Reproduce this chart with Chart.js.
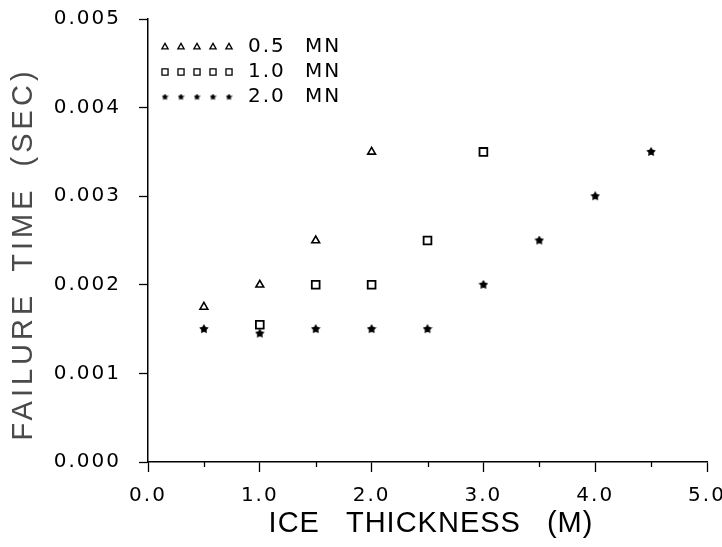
<!DOCTYPE html>
<html lang="en">
<head>
  <meta charset="UTF-8" />
  <title>Failure time vs ice thickness</title>
  <script src="https://cdn.jsdelivr.net/npm/chart.js"></script>
  <style>
    body {
      margin: 0;
      background-color: #ffffff;
    }
    #wrap {
      width: 722px;
      height: 547px;
    }
  </style>
</head>
<body>
  <div id="wrap">
    <canvas id="failChart" width="722" height="547"></canvas>
  </div>

  <script>
    // values (ice thickness in m, failure time in s)
    const seriesNames = ["0.5 MN", "1.0 MN", "2.0 MN"];

    const thick05 = [0.5, 1.0, 1.5, 2.0];
    const time05 = [0.00175, 0.002, 0.0025, 0.0035];

    const thick10 = [1.0, 1.5, 2.0, 2.5, 3.0];
    const time10 = [0.00155, 0.002, 0.002, 0.0025, 0.0035];

    const thick20 = [0.5, 1.0, 1.5, 2.0, 2.5, 3.0, 3.5, 4.0, 4.5];
    const time20 = [0.0015, 0.00145, 0.0015, 0.0015, 0.0015, 0.002, 0.0025, 0.003, 0.0035];

    const xTicks = [0, 1, 2, 3, 4, 5];
    const xMinorTicks = [0.5, 1.5, 2.5, 3.5, 4.5];
    const yTicks = [0, 0.001, 0.002, 0.003, 0.004, 0.005];

    const xTitle = "ICE THICKNESS (M)";
    const yTitle = "FAILURE TIME (SEC)";

    const FONT = "'Liberation Sans', Arial, sans-serif";
    const TICKFONT = "'DejaVu Sans', sans-serif";

    function toPoints(xs, ys) {
      return xs.map((x, i) => ({ x: x, y: ys[i] }));
    }

    // filled five point star used as marker
    function makeStar(size) {
      const c = document.createElement("canvas");
      c.width = size;
      c.height = size;
      const g = c.getContext("2d");
      const r = size / 2;
      g.fillStyle = "#000";
      g.beginPath();
      for (let i = 0; i < 10; i++) {
        const rad = i % 2 === 0 ? r : r * 0.55;
        const a = -Math.PI / 2 + (i * Math.PI) / 5;
        const px = r + rad * Math.cos(a);
        const py = r + rad * Math.sin(a);
        if (i === 0) g.moveTo(px, py);
        else g.lineTo(px, py);
      }
      g.closePath();
      g.fill();
      return c;
    }
    const starImg = makeStar(10);
    const starSmall = makeStar(7);

    function spacedWidth(ctx, words, gap) {
      let w = 0;
      words.forEach((wd, i) => {
        w += ctx.measureText(wd).width;
        if (i < words.length - 1) w += gap;
      });
      return w;
    }

    // wide plotter-like lettering for the ticks
    const spacing = {
      id: "spacing",
      beforeDraw(chart) {
        chart.ctx.letterSpacing = "2px";
      },
      afterDraw(chart) {
        chart.ctx.letterSpacing = "0px";
      },
    };

    // minor x ticks, axis titles and the row legend
    const extras = {
      id: "extras",
      afterDraw(chart) {
        const ctx = chart.ctx;
        const xs = chart.scales.x;
        const area = chart.chartArea;
        ctx.save();
        ctx.strokeStyle = "#000";
        ctx.lineWidth = 1.3;
        xMinorTicks.forEach((v) => {
          const px = Math.round(xs.getPixelForValue(v)) + 0.5;
          ctx.beginPath();
          ctx.moveTo(px, area.bottom);
          ctx.lineTo(px, area.bottom + 5);
          ctx.stroke();
        });

        // x title
        ctx.fillStyle = "#000";
        ctx.textBaseline = "middle";
        ctx.textAlign = "left";
        ctx.font = "29px " + FONT;
        ctx.letterSpacing = "1px";
        let words = xTitle.split(" ");
        let gap = 26;
        let w = spacedWidth(ctx, words, gap);
        let x = 431 - w / 2;
        words.forEach((wd) => {
          ctx.fillText(wd, x, 524);
          x += ctx.measureText(wd).width + gap;
        });

        // y title, rotated
        ctx.save();
        ctx.translate(24, 254);
        ctx.rotate(-Math.PI / 2);
        ctx.fillStyle = "#4a4a4a";
        ctx.font = "29px " + FONT;
        ctx.letterSpacing = "4px";
        words = yTitle.split(" ");
        gap = 20;
        w = spacedWidth(ctx, words, gap);
        x = -w / 2;
        words.forEach((wd) => {
          ctx.fillText(wd, x, 0);
          x += ctx.measureText(wd).width + gap;
        });
        ctx.restore();

        // legend: five markers per row, then the label
        const rows = [47, 72, 97];
        ctx.font = "20px " + TICKFONT;
        ctx.letterSpacing = "2px";
        rows.forEach((y, i) => {
          for (let k = 0; k < 5; k++) {
            const mx = 165 + k * 16;
            if (i === 2) {
              ctx.drawImage(starSmall, mx - 3.5, y - 3.5);
            } else {
              ctx.fillStyle = "#fff";
              ctx.strokeStyle = "#000";
              ctx.lineWidth = 1.3;
              Chart.helpers.drawPoint(ctx, {
                pointStyle: i === 0 ? "triangle" : "rect",
                radius: i === 0 ? 3.6 : 4.3,
                borderWidth: 1.3,
                rotation: 0,
              }, mx, y);
            }
          }
          const parts = seriesNames[i].split(" ");
          ctx.fillStyle = "#000";
          ctx.fillText(parts[0], 248, y);
          ctx.fillText(parts[1], 305, y);
        });
        ctx.restore();
      },
    };

    const ctx = document.getElementById("failChart").getContext("2d");
    new Chart(ctx, {
      type: "scatter",
      data: {
        datasets: [
          {
            label: seriesNames[0],
            data: toPoints(thick05, time05),
            pointStyle: "triangle",
            pointRadius: 4.5,
            pointBorderWidth: 1.6,
            borderColor: "#000",
            backgroundColor: "#fff",
          },
          {
            label: seriesNames[1],
            data: toPoints(thick10, time10),
            pointStyle: "rect",
            pointRadius: 5.5,
            pointBorderWidth: 1.8,
            borderColor: "#000",
            backgroundColor: "#fff",
          },
          {
            label: seriesNames[2],
            data: toPoints(thick20, time20),
            pointStyle: starImg,
            pointRadius: 5,
            borderColor: "#000",
            backgroundColor: "#000",
          },
        ],
      },
      options: {
        responsive: false,
        animation: false,
        layout: { padding: { left: 0, right: 15, top: 19, bottom: 0 } },
        plugins: {
          legend: { display: false },
          tooltip: { enabled: false },
        },
        scales: {
          x: {
            type: "linear",
            min: 0,
            max: 5,
            afterBuildTicks: (scale) => {
              scale.ticks = xTicks.map((v) => ({ value: v }));
            },
            afterFit: (scale) => {
              scale.height = 85;
              scale.paddingLeft = 0;
              scale.paddingRight = 0;
            },
            border: { display: true, color: "#000", width: 1.5 },
            grid: {
              drawOnChartArea: false,
              drawTicks: true,
              tickLength: 10,
              color: "#000",
              tickWidth: 1.3,
            },
            ticks: {
              color: "#000",
              padding: 12,
              autoSkip: false,
              maxRotation: 0,
              font: { family: TICKFONT, size: 20 },
              callback: (v) => v.toFixed(1),
            },
          },
          y: {
            type: "linear",
            min: 0,
            max: 0.005,
            afterBuildTicks: (scale) => {
              scale.ticks = yTicks.map((v) => ({ value: v }));
            },
            afterFit: (scale) => {
              scale.width = 148;
              scale.paddingTop = 0;
              scale.paddingBottom = 0;
            },
            border: { display: true, color: "#000", width: 1.5 },
            grid: {
              drawOnChartArea: false,
              drawTicks: true,
              tickLength: 9,
              color: "#000",
              tickWidth: 1.3,
            },
            ticks: {
              color: "#000",
              padding: 18,
              font: { family: TICKFONT, size: 20 },
              callback: (v) => v.toFixed(3),
            },
          },
        },
      },
      plugins: [spacing, extras],
    });
  </script>
</body>
</html>
